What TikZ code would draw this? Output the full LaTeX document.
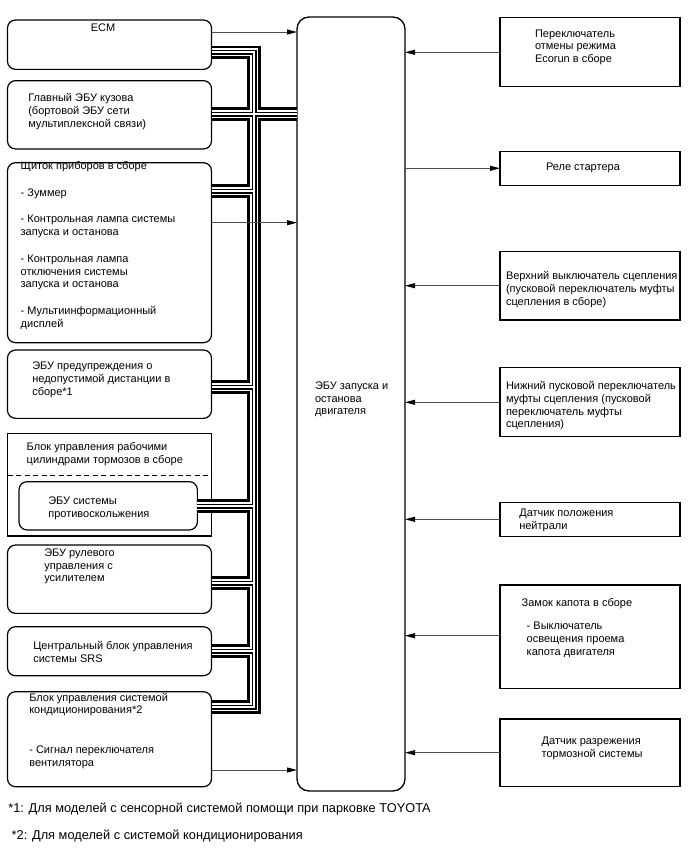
\documentclass[tikz,border=0pt]{standalone}
\usepackage{fontspec}
\setmainfont{Liberation Sans}
\usetikzlibrary{arrows.meta}
\newcommand\busnet[1]{%
  \draw[#1] (ecm.east |- vtop) -- (vtop) -- (vbot) -- (ac.east |- vbot);
  \draw[#1] (body.east |- 0,114) -- (ecu.west |- 0,114);
  \draw[#1] (cluster.east |- 0,191) -- (vtop |- 0,191);
  \draw[#1] (dist.east |- 0,387) -- (vtop |- 0,387);
  \draw[#1] (vsc.east |- 0,506) -- (vtop |- 0,506);
  \draw[#1] (ps.east |- 0,583) -- (vtop |- 0,583);
  \draw[#1] (srs.east |- 0,651) -- (vtop |- 0,651);
}
\begin{document}
\begin{tikzpicture}[x=1pt,y=-1pt,
  every node/.style={inner sep=0pt, outer sep=0pt},
  lbox/.style={draw, line width=1.2pt, rounded corners=8pt, minimum width=204pt},
  rbox/.style={draw, line width=1.2pt, minimum width=180pt},
  txt/.style={align=left, anchor=north west, yshift=8.96pt, execute at begin node=\strut, font=\fontsize{11}{12.8}\selectfont},
  onetxt/.style={anchor=base, font=\fontsize{11}{12.8}\selectfont},
  fntxt/.style={anchor=base west, font=\fontsize{12.8}{15}\selectfont},
  arr/.style={draw=black!70, line width=0.9pt, -{Triangle[length=10pt,width=5pt,color=black]}},
  busA/.style={line width=13.2pt, black, line join=miter},
  busB/.style={line width=8.4pt, white, line join=miter},
  busC/.style={line width=5pt, black, line join=miter},
  busD/.style={line width=1.6pt, white, line join=miter},
]
\useasboundingbox[fill=white] (0,0) rectangle (688,852);

% left boxes
\node[lbox, minimum height=49.3pt] (ecm) at (109.5,44.7) {};
\node[lbox, minimum height=68.3pt] (body) at (109.5,114.8) {};
\node[lbox, minimum height=180pt] (cluster) at (109.5,252.7) {};
\node[lbox, minimum height=68.3pt] (dist) at (109.5,384.2) {};
\node[rbox, minimum width=204pt, minimum height=102.7pt] (brake) at (109.5,484.7) {};
\node[lbox, minimum width=178.3pt, minimum height=48.3pt] (vsc) at (108.2,505.8) {};
\node[lbox, minimum height=68.3pt] (ps) at (109.5,579.2) {};
\node[lbox, minimum height=49pt] (srs) at (109.5,651.2) {};
\node[lbox, minimum height=95pt] (ac) at (109.5,739.2) {};
\draw[line width=1.2pt, dash pattern=on 5pt off 3.5pt] (brake.west |- 0,475.7) -- (brake.east |- 0,475.7);

% centre
\node[draw, line width=1.3pt, rounded corners=12pt, minimum width=108pt, minimum height=774pt] (ecu) at (351,404) {};

% right boxes
\node[rbox, minimum height=69.4pt] (ecorun) at (590,52) {};
\node[rbox, minimum height=34pt] (starter) at (590,168.7) {};
\node[rbox, minimum height=68.3pt] (upper) at (590,285.8) {};
\node[rbox, minimum height=69pt] (lower) at (590,402.2) {};
\node[rbox, minimum height=34.4pt] (neutral) at (590,519.5) {};
\node[rbox, minimum height=103.3pt] (hood) at (590,636.7) {};
\node[rbox, minimum height=67.7pt] (vacuum) at (590,752.8) {};

% texts
\node[onetxt] (tecm) at (103,31.5) {ECM};
\node[txt] (tbody) at (28.3,102.5) {Главный ЭБУ кузова\\(бортовой ЭБУ сети\\мультиплексной связи)};
\node[txt] (tcluster) at (20.7,170.2) {Щиток приборов в сборе\\[13.9pt]- Зуммер\\[13.9pt]- Контрольная лампа системы\\запуска и останова\\[13.9pt]- Контрольная лампа\\отключения системы\\запуска и останова\\[13.9pt]- Мультиинформационный\\дисплей};
\node[txt] (tdist) at (32.3,370.8) {ЭБУ предупреждения о\\недопустимой дистанции в\\сборе*1};
\node[txt] (tbrake) at (26.7,451.8) {Блок управления рабочими\\цилиндрами тормозов в сборе};
\node[txt] (tvsc) at (48.3,505.8) {ЭБУ системы\\противоскольжения};
\node[txt] (tps) at (44.3,557.5) {ЭБУ рулевого\\управления с\\усилителем};
\node[txt] (tsrs) at (33.3,650.2) {Центральный блок управления\\системы SRS};
\node[txt] (tac) at (29.3,701.8) {Блок управления системой\\кондиционирования*2\\[27pt]- Сигнал переключателя\\вентилятора};
\node[txt] (tecu) at (315,390.5) {ЭБУ запуска и\\останова\\двигателя};
\node[txt] (tecorun) at (535,38.5) {Переключатель\\отмены режима\\Ecorun в сборе};
\node[txt] (tstarter) at (546,170.8) {Реле стартера};
\node[txt] (tupper) at (506,280.2) {Верхний выключатель сцепления\\(пусковой переключатель муфты\\сцепления в сборе)};
\node[txt] (tlower) at (506,390.2) {Нижний пусковой переключатель\\муфты сцепления (пусковой\\переключатель муфты\\сцепления)};
\node[txt] (tneutral) at (519.3,517.8) {Датчик положения\\нейтрали};
\node[txt] (thood) at (521.7,606.2) {Замок капота в сборе};
\node[txt] (thoodb) at (526.7,631.2) {- Выключатель\\освещения проема\\капота двигателя};
\node[txt] (tvacuum) at (541.7,745.8) {Датчик разрежения\\тормозной системы};
\node[fntxt] (fn1) at (8.3,812.5) {*1: Для моделей с сенсорной системой помощи при парковке TOYOTA};
\node[fntxt] (fn2) at (11.7,839.5) {*2: Для моделей с системой кондиционирования};

% bus
\coordinate (vtop) at (254,52.2);
\coordinate (vbot) at (254,707);
\busnet{busA}
\busnet{busB}
\busnet{busC}
\busnet{busD}

% arrows
\draw[arr] (ecm.east |- 0,32) -- (ecu.west |- 0,32);
\draw[arr] (cluster.east |- 0,222.7) -- (ecu.west |- 0,222.7);
\draw[arr] (ac.east |- 0,770) -- (ecu.west |- 0,770);
\draw[arr] (ecorun.west |- 0,52.3) -- (ecu.east |- 0,52.3);
\draw[arr] (ecu.east |- 0,168.3) -- (starter.west |- 0,168.3);
\draw[arr] (upper.west |- 0,285.7) -- (ecu.east |- 0,285.7);
\draw[arr] (lower.west |- 0,402.3) -- (ecu.east |- 0,402.3);
\draw[arr] (neutral.west |- 0,519.3) -- (ecu.east |- 0,519.3);
\draw[arr] (hood.west |- 0,635.7) -- (ecu.east |- 0,635.7);
\draw[arr] (vacuum.west |- 0,752.7) -- (ecu.east |- 0,752.7);
\end{tikzpicture}
\end{document}
